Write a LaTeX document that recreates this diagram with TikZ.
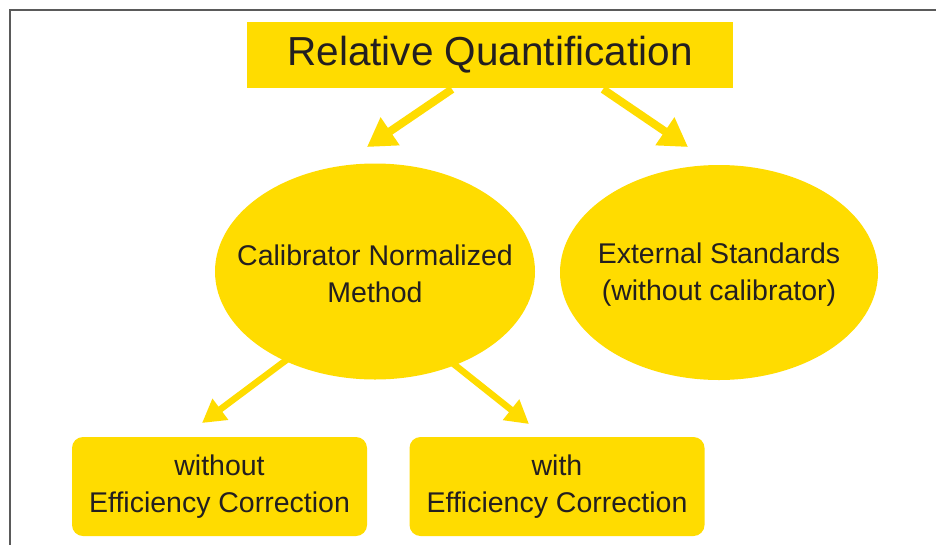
\documentclass[tikz,border=0pt]{standalone}
\usepackage{fontspec}
\setmainfont{Liberation Sans}
\usetikzlibrary{shapes.geometric,arrows.meta}
\definecolor{ylw}{HTML}{FFDC00}
\definecolor{txt}{HTML}{231F20}
\definecolor{frm}{HTML}{5A5A5A}
\begin{document}
\begin{tikzpicture}[x=1pt,y=-1pt,
  txtstyle/.style={text=txt,inner sep=0pt,align=center,
     font=\fontsize{28.5}{37}\selectfont},
  fillbox/.style={txtstyle,fill=ylw,draw=none},
  ybox/.style={fillbox,rectangle,rounded corners=11pt,minimum width=295pt,minimum height=99pt},
  yell/.style={fill=ylw,draw=none,ellipse,inner sep=0pt,minimum width=320pt,minimum height=216pt},
  bigarrow/.style={draw=ylw,line width=8pt,-{Triangle[length=28pt,width=32pt]}},
  smallarrow/.style={draw=ylw,line width=6.5pt,-{Triangle[length=23pt,width=25pt]}}]
\useasboundingbox (0,0) rectangle (936,544);
\fill[white] (0,0) rectangle (936,544);
\draw[frm,line width=2pt] (10,545) -- (10,10) -- (937,10);

\node[fillbox,rectangle,minimum width=486pt,minimum height=66pt,
      font=\fontsize{40.5}{48}\selectfont] (title) at (490,55) {Relative Quantification};
\node[yell,label={[txtstyle,yshift=-2pt]center:Calibrator Normalized\\Method}] (cnm) at (375,271.5) {};
\node[yell,minimum width=318pt,minimum height=215pt,
      label={[txtstyle,yshift=-2pt]center:External Standards\\(without calibrator)}] (ext) at (719,272.5) {};
\node[ybox] (wo) at (219.5,486.5) {without\\Efficiency Correction};
\node[ybox] (wi) at (557,486.5) {with\\Efficiency Correction};

\coordinate (t1) at (367,147);
\coordinate (t2) at (688,147);
\coordinate (t3) at (202,423);
\coordinate (t4) at (529,424);

\draw[bigarrow] ([xshift=-38pt,yshift=-1pt]title.south) -- (t1);
\draw[bigarrow] ([xshift=113pt,yshift=-1pt]title.south) -- (t2);
\draw[smallarrow] ([shift={(-88,88)}]cnm.center) -- (t3);
\draw[smallarrow] ([shift={(78,92)}]cnm.center) -- (t4);
\end{tikzpicture}
\end{document}
